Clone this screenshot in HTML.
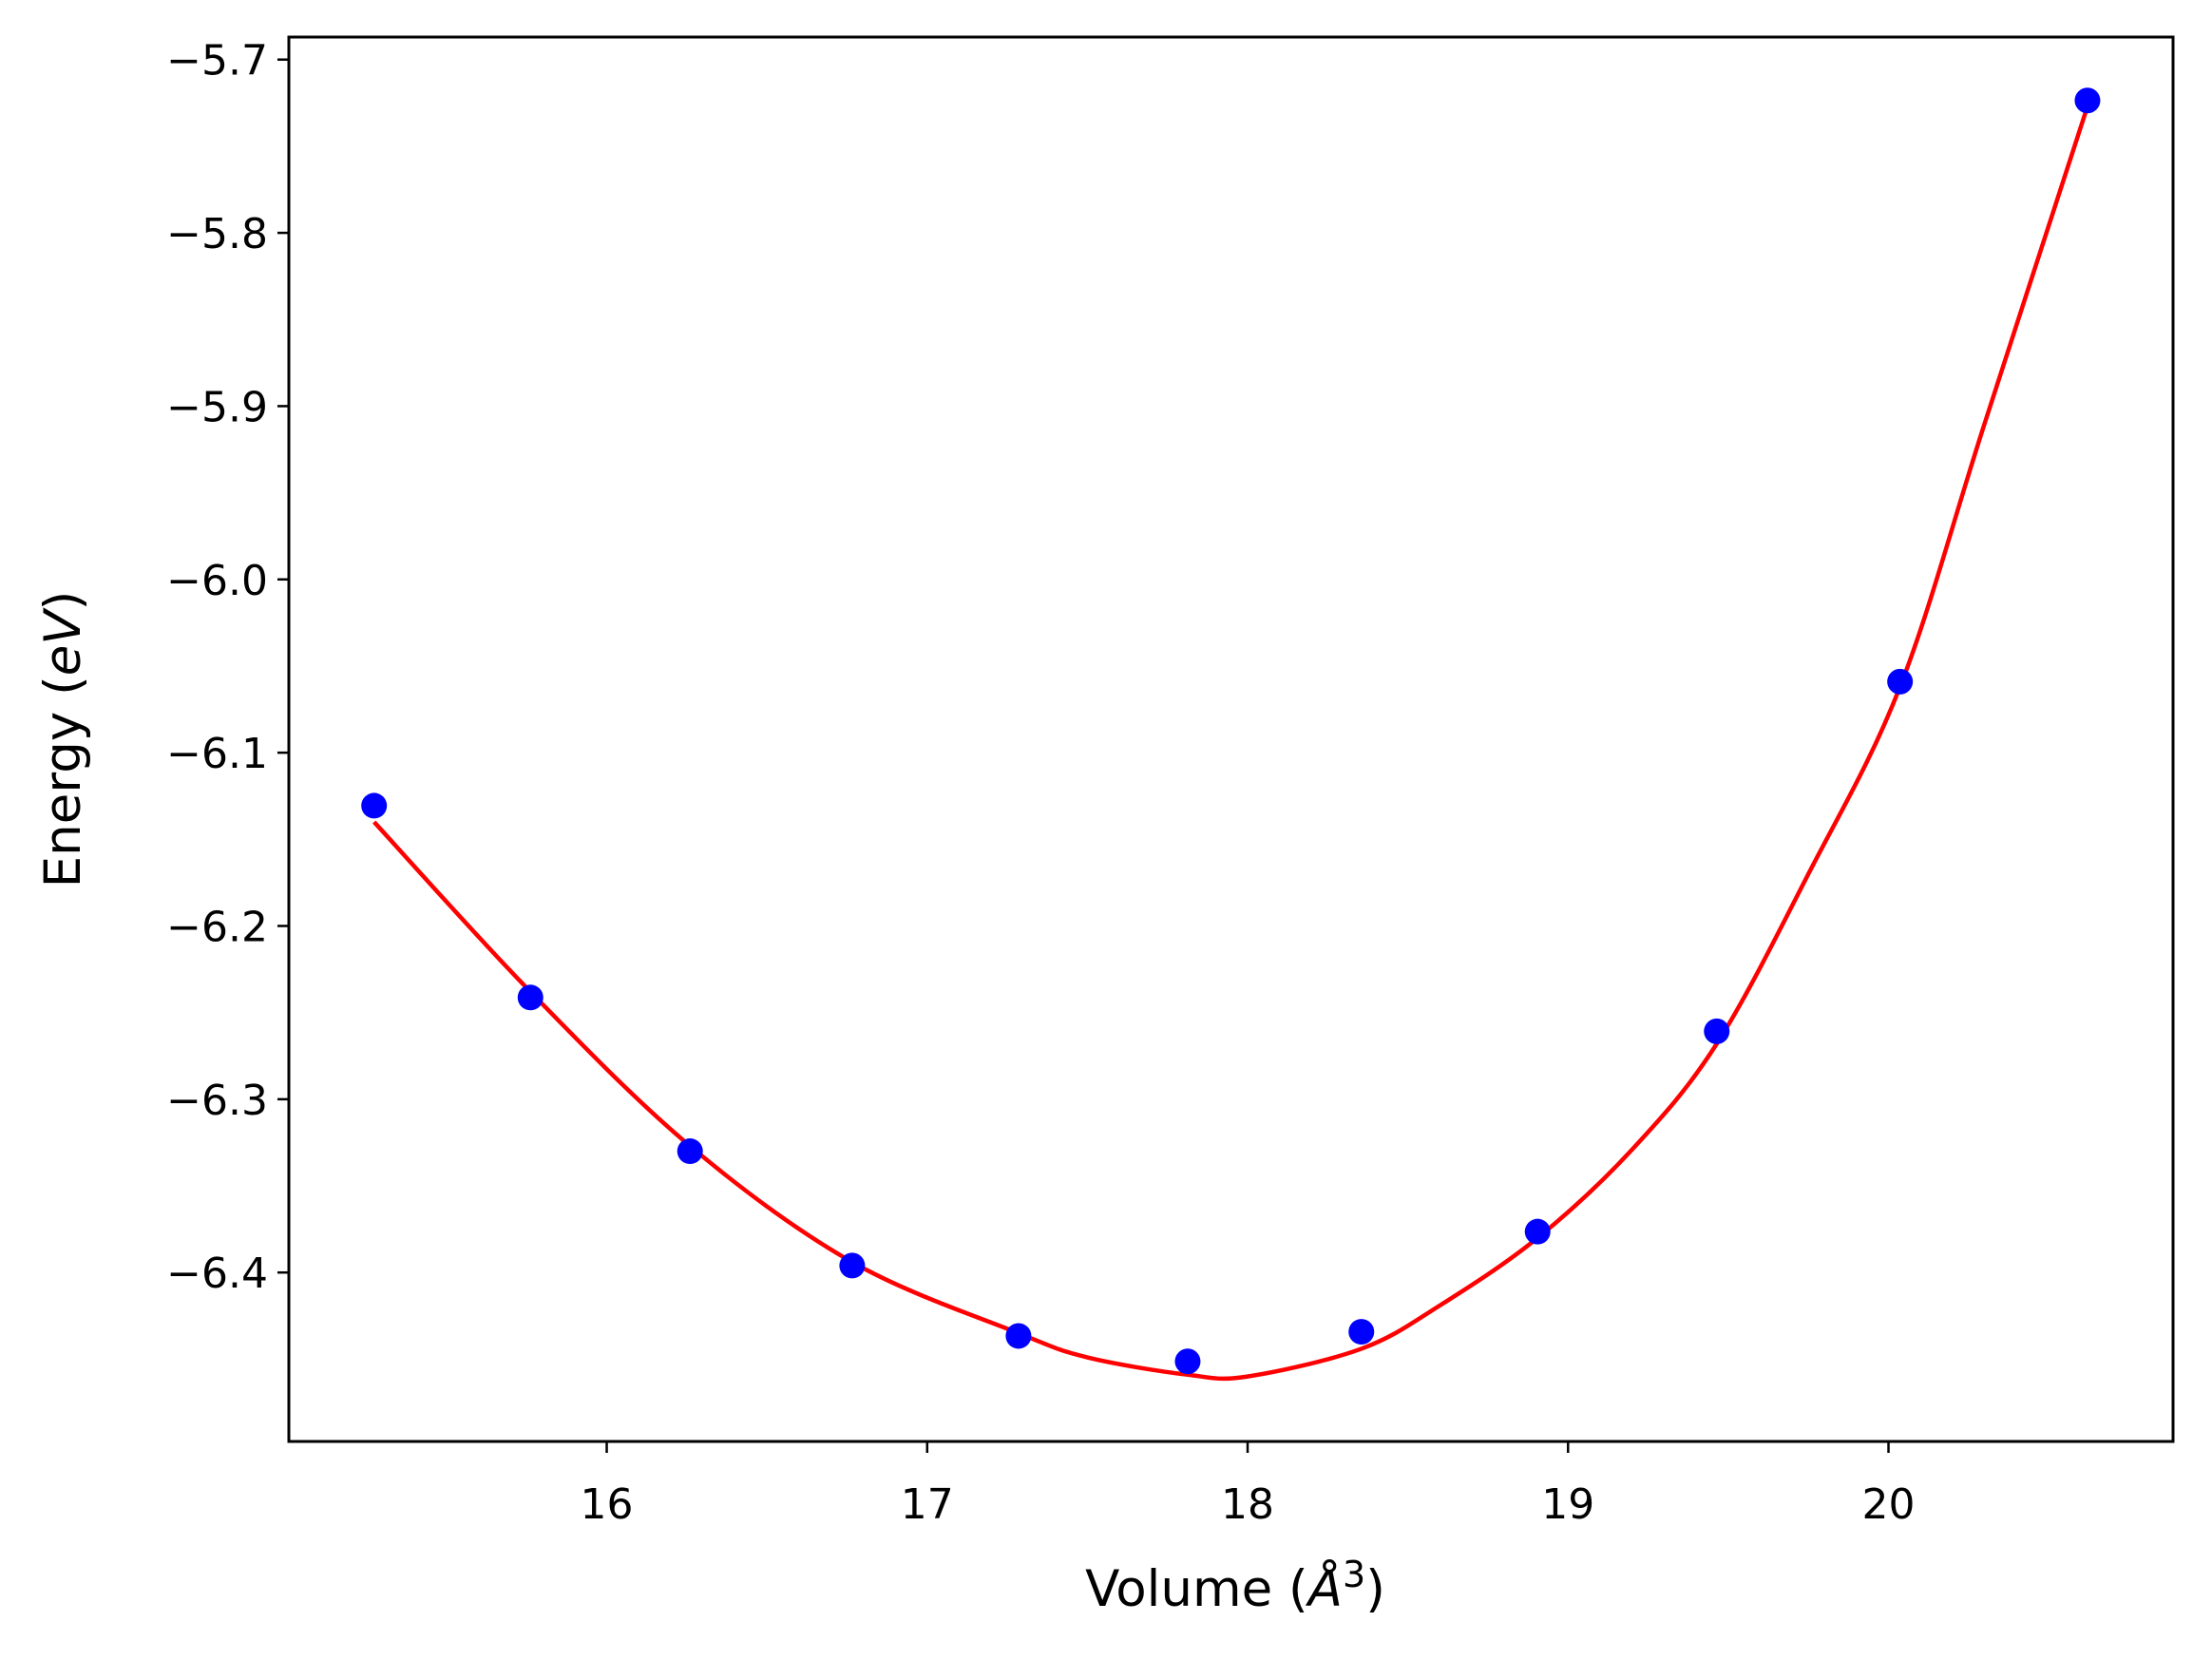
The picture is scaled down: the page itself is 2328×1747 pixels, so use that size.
<!DOCTYPE html>
<html><head><meta charset="utf-8"><style>
html,body{margin:0;padding:0;background:#fff;}
svg{display:block;font-family:"DejaVu Sans","Liberation Sans",sans-serif;}
</style></head><body>
<svg id="chart" width="2328" height="1747" viewBox="0 0 2328 1747" xmlns="http://www.w3.org/2000/svg">
<rect x="0" y="0" width="2328" height="1747" fill="#fff"/>
<g id="curve"></g>
<g id="points"></g>
<g id="axes"></g>
<text x="1300" y="1690" text-anchor="middle" font-size="53">Volume (<tspan font-style="italic">Å</tspan><tspan font-size="38" dy="-20">3</tspan><tspan dy="20">)</tspan></text>
<text transform="translate(84,778) rotate(-90)" text-anchor="middle" font-size="53">Energy (<tspan font-style="italic">eV</tspan>)</text>
</svg>
<script>
const pointVolumes=[15.274,15.762,16.260,16.766,17.285,17.813,18.355,18.905,19.464,20.036,20.621];
const pointEnergies=[-6.1306,-6.2413,-6.330,-6.396,-6.4366,-6.4513,-6.4342,-6.3764,-6.2608,-6.0590,-5.7236];
const curveVolumes=[15.274,15.762,16.26,16.766,17.285,17.5,17.813,18.0,18.355,18.6,18.905,19.2,19.464,19.75,20.036,20.3,20.621];
const curveEnergies=[-6.140,-6.238,-6.327,-6.394,-6.435,-6.449,-6.459,-6.460,-6.444,-6.419,-6.380,-6.329,-6.268,-6.170,-6.062,-5.910,-5.727];
const xTicks=[16,17,18,19,20];
const yTicks=[-5.7,-5.8,-5.9,-6.0,-6.1,-6.2,-6.3,-6.4];
const yTickLabels=["−5.7","−5.8","−5.9","−6.0","−6.1","−6.2","−6.3","−6.4"];
const L=304,R=2287,T=39,B=1517;
const xMin=15.008,xMax=20.888,yMin=-6.4975,yMax=-5.687;
const sx=v=>L+(v-xMin)/(xMax-xMin)*(R-L);
const sy=v=>B-(v-yMin)/(yMax-yMin)*(B-T);
const NS="http://www.w3.org/2000/svg";
function mk(tag,attrs,parent){const e=document.createElementNS(NS,tag);for(const k in attrs)e.setAttribute(k,attrs[k]);parent.appendChild(e);return e;}
// curve (catmull-rom to bezier)
const P=curveVolumes.map((v,i)=>[sx(v),sy(curveEnergies[i])]);
let d="M"+P[0][0]+","+P[0][1];
for(let i=0;i<P.length-1;i++){
 const p0=P[Math.max(i-1,0)],p1=P[i],p2=P[i+1],p3=P[Math.min(i+2,P.length-1)];
 const c1=[p1[0]+(p2[0]-p0[0])/6,p1[1]+(p2[1]-p0[1])/6];
 const c2=[p2[0]-(p3[0]-p1[0])/6,p2[1]-(p3[1]-p1[1])/6];
 d+=" C"+c1[0]+","+c1[1]+" "+c2[0]+","+c2[1]+" "+p2[0]+","+p2[1];
}
const cg=document.getElementById('curve');
const path=mk('path',{d:d,fill:'none',stroke:'#ff0000','stroke-width':4.5},cg);


const pg=document.getElementById('points');
pointVolumes.forEach((v,i)=>{
 const c=mk('circle',{cx:sx(v),cy:sy(pointEnergies[i]),r:13.5,fill:'#0000ff'},pg);
 
 
});
const ag=document.getElementById('axes');
const frame=mk('rect',{x:L,y:T,width:R-L,height:B-T,fill:'none',stroke:'#000','stroke-width':3},ag);


xTicks.forEach(v=>{
 const x=sx(v);
 const t=mk('line',{x1:x,y1:B,x2:x,y2:B+12,stroke:'#000','stroke-width':2.5},ag);
 
 
 const lb=mk('text',{x:x,y:1598,'text-anchor':'middle','font-size':44},ag);
 lb.textContent=String(v);
 
 
});
yTicks.forEach((v,i)=>{
 const y=sy(v);
 const t=mk('line',{x1:L-12,y1:y,x2:L,y2:y,stroke:'#000','stroke-width':2.5},ag);
 
 
 const lb=mk('text',{x:L-22,y:y+16,'text-anchor':'end','font-size':44},ag);
 lb.textContent=yTickLabels[i];
 
 
});
</script>
</body></html>
